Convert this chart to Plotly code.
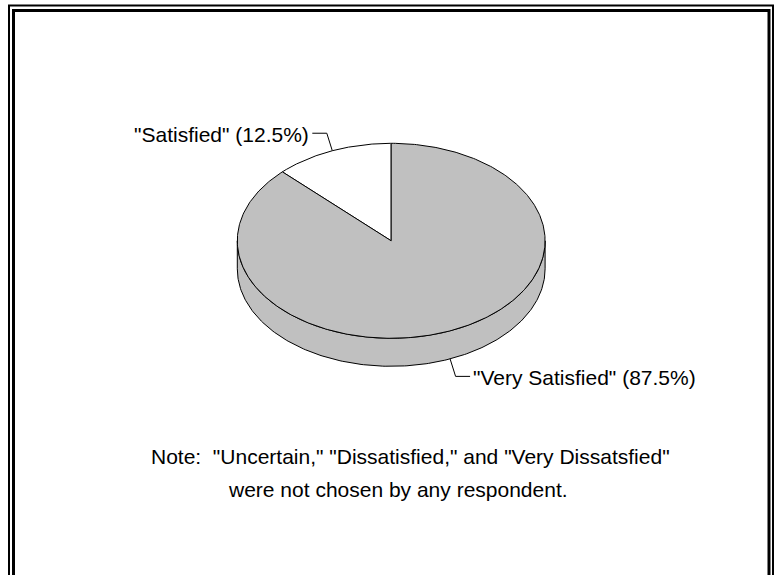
import numpy as np
import plotly.graph_objects as go

# Survey responses
labels = ['"Satisfied"', '"Very Satisfied"']
values = [12.5, 87.5]
slice_colors = ["#FFFFFF", "#C0C0C0"]
note_lines = [
    'Note:  "Uncertain," "Dissatisfied," and "Very Dissatsfied"',
    'were not chosen by any respondent.',
]

W, H = 775, 575
FONT = "Liberation Sans, Arial, Helvetica, sans-serif"

# Pie geometry (pixel units of the drawing area)
CX, CY = 391.2, 240.8
RX, RY = 153.9, 97.5
DEPTH = 28.0
START = 90.0  # first slice starts at 12 o'clock, running counter-clockwise


def pt(theta_deg, drop=0.0):
    t = np.radians(theta_deg)
    return CX + RX * np.cos(t), CY - RY * np.sin(t) + drop


total = float(sum(values))
spans = []
a = START
for v in values:
    s = 360.0 * v / total
    spans.append((a, a + s))
    a += s

fig = go.Figure()
line_style = dict(color="black", width=1)

# Rim of the pie: only the front half (180..360 deg) faces the viewer
for (a0, a1), col in zip(spans, slice_colors):
    for k in range(-1, 3):
        lo = max(a0, 180 + 360 * k)
        hi = min(a1, 360 + 360 * k)
        if hi <= lo:
            continue
        th = np.linspace(lo, hi, 200)
        xt, yt = pt(th)
        xb, yb = pt(th[::-1], DEPTH)
        xs = np.concatenate([xt, xb, xt[:1]])
        ys = np.concatenate([yt, yb, yt[:1]])
        fig.add_trace(go.Scatter(x=xs, y=ys, mode="lines", fill="toself",
                                 fillcolor=col, line=line_style,
                                 hoverinfo="skip"))

# Top faces of the slices
for (a0, a1), col in zip(spans, slice_colors):
    th = np.linspace(a0, a1, 400)
    xa, ya = pt(th)
    xs = np.concatenate([[CX], xa, [CX]])
    ys = np.concatenate([[CY], ya, [CY]])
    fig.add_trace(go.Scatter(x=xs, y=ys, mode="lines", fill="toself",
                             fillcolor=col, line=line_style,
                             hoverinfo="skip"))

# Leader lines and slice labels
annotations = []
for (a0, a1), lab, v in zip(spans, labels, values):
    mid = (a0 + a1) / 2.0
    upper = np.sin(np.radians(mid)) > 0
    right = np.cos(np.radians(mid)) > 0
    x0, y0 = pt(mid, 0.0 if upper else DEPTH)
    sx = 1 if right else -1
    sy = -1 if upper else 1
    x1, y1 = x0 + sx * 5.5, y0 + sy * 17.5
    x2, y2 = x1 + sx * 14.5, y1
    fig.add_trace(go.Scatter(x=[x0, x1, x2], y=[y0, y1, y2], mode="lines",
                             line=line_style, hoverinfo="skip"))
    annotations.append(dict(
        x=x2 + sx * 1, y=y2 + 1.5, xref="x", yref="y",
        text=f"{lab} ({v}%)", showarrow=False,
        xanchor="left" if right else "right", yanchor="middle",
        font=dict(family=FONT, size=21, color="black"),
    ))

# Footnote
annotations.append(dict(x=149, y=456, xref="x", yref="y", text=note_lines[0],
                        showarrow=False, xanchor="left", yanchor="middle",
                        font=dict(family=FONT, size=21, color="black")))
annotations.append(dict(x=226, y=489, xref="x", yref="y", text=note_lines[1],
                        showarrow=False, xanchor="left", yanchor="middle",
                        font=dict(family=FONT, size=21, color="black")))

# Double frame, open at the bottom
shapes = [
    dict(type="path", xref="x", yref="y",
         path=f"M 9,{H} L 9,5.5 L 773,5.5 L 773,{H}",
         line=dict(color="black", width=2)),
    dict(type="path", xref="x", yref="y",
         path=f"M 13.5,{H} L 13.5,10.5 L 769,10.5 L 769,{H}",
         line=dict(color="black", width=3)),
]

fig.update_layout(
    width=W, height=H,
    margin=dict(l=0, r=0, t=0, b=0),
    paper_bgcolor="white", plot_bgcolor="white",
    showlegend=False,
    xaxis=dict(range=[0, W], visible=False, fixedrange=True),
    yaxis=dict(range=[H, 0], visible=False, fixedrange=True),
    annotations=annotations,
    shapes=shapes,
)

fig.write_html("out.html")
